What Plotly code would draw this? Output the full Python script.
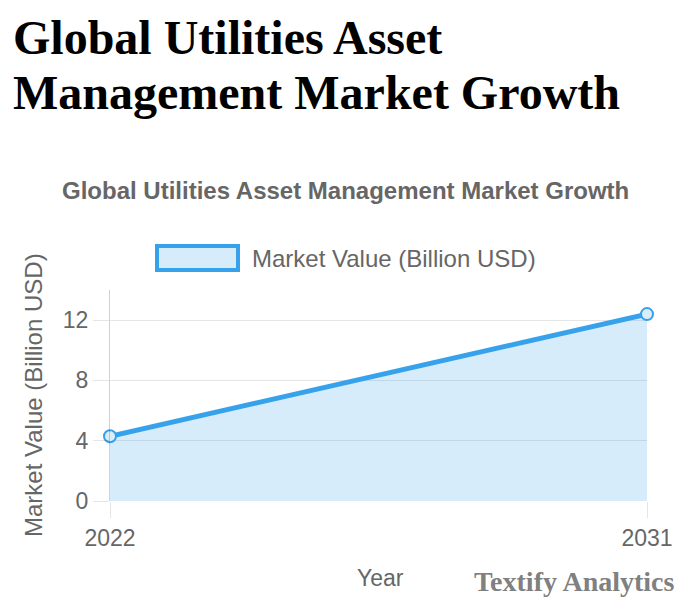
import plotly.graph_objects as go

years = ["2022", "2031"]
market_value = [4.3, 12.4]
y_ticks = [0, 4, 8, 12]

heading_lines = ["Global Utilities Asset", "Management Market Growth"]
chart_title = "Global Utilities Asset Management Market Growth"
series_name = "Market Value (Billion USD)"
x_title = "Year"
y_title = "Market Value (Billion USD)"
credit = "Textify Analytics"

OFF = 8  # default page body margin
W, H = 689 - 2 * OFF, 610 - 2 * OFF
# plot area in reference page pixels
PL, PR, PT, PB = 110, 647, 290, 501
L, T = PL - OFF, PT - OFF
R = W - (PR - OFF)
B = H - (PB - OFF)
pw, ph = PR - PL, PB - PT


def px(x):
    return (x - PL) / pw


def py(y):
    return (PB - y) / ph


blue = "rgb(54,162,235)"
fill = "rgba(54,162,235,0.2)"
grey = "#666666"
grid = "rgba(0,0,0,0.1)"

fig = go.Figure()
fig.add_trace(go.Scatter(
    x=years, y=market_value, mode="lines+markers", fill="tozeroy",
    fillcolor=fill, line=dict(color=blue, width=5),
    marker=dict(size=12, color="rgba(220,237,250,1)", line=dict(color=blue, width=2)),
    name=series_name, showlegend=False, hoverinfo="x+y", cliponaxis=False,
))

ann = []
ann.append(dict(text="<b>%s</b>" % heading_lines[0], x=px(11), y=py(37), xanchor="left", yanchor="middle",
                font=dict(family="Liberation Serif", size=48, color="black")))
ann.append(dict(text="<b>%s</b>" % heading_lines[1], x=px(11), y=py(92), xanchor="left", yanchor="middle",
                font=dict(family="Liberation Serif", size=48, color="black")))
ann.append(dict(text="<b>%s</b>" % chart_title, x=px(345), y=py(190), xanchor="center", yanchor="middle",
                font=dict(family="Liberation Sans", size=24, color=grey)))
ann.append(dict(text=series_name, x=px(250), y=py(258), xanchor="left", yanchor="middle",
                font=dict(family="Liberation Sans", size=24, color=grey)))
ann.append(dict(text=y_title, x=px(33), y=py(395), xanchor="center", yanchor="middle", textangle=-90,
                font=dict(family="Liberation Sans", size=24, color=grey)))
ann.append(dict(text=x_title, x=px(380), y=py(578), xanchor="center", yanchor="middle",
                font=dict(family="Liberation Sans", size=23, color=grey)))
ann.append(dict(text="<b>%s</b>" % credit, x=px(677), y=py(581), xanchor="right", yanchor="middle",
                font=dict(family="Liberation Serif", size=28, color="#808080")))
for a in ann:
    a.update(xref="paper", yref="paper", showarrow=False)

shapes = [dict(type="rect", xref="paper", yref="paper",
               x0=px(157), x1=px(238), y0=py(246), y1=py(270),
               line=dict(color=blue, width=4), fillcolor=fill)]

fig.update_layout(
    width=W, height=H, margin=dict(l=L, r=R, t=T, b=B, autoexpand=False),
    paper_bgcolor="white", plot_bgcolor="white",
    annotations=ann, shapes=shapes, showlegend=False,
    font=dict(family="Liberation Sans", color=grey),
)
fig.update_xaxes(type="category", range=[0, 1], showgrid=True, gridcolor=grid, gridwidth=1,
                 ticks="outside", ticklen=16, tickcolor=grid, zeroline=False,
                 tickfont=dict(size=23, color=grey), showline=False)
fig.update_yaxes(range=[0, 14], tickvals=y_ticks, showgrid=True, gridcolor=grid,
                 ticks="outside", ticklen=16, tickcolor=grid, zeroline=False,
                 tickfont=dict(size=23, color=grey), showline=True, linecolor="rgba(0,0,0,0.18)",
                 linewidth=1)

fig.write_html("out.html")
